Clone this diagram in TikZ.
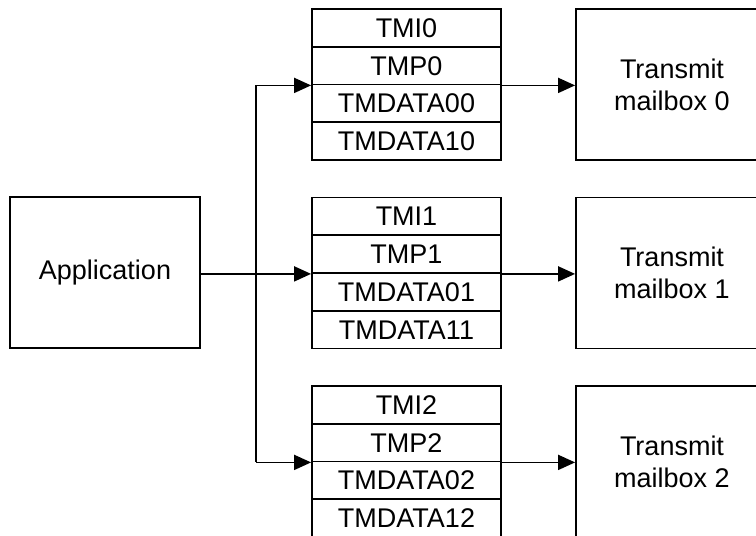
\documentclass[tikz,border=0pt]{standalone}
\usepackage{fontspec}
\setmainfont{Liberation Sans}
\usetikzlibrary{arrows.meta}
\begin{document}
\begin{tikzpicture}[x=1pt,y=-1pt,line width=1.8pt,
  txt/.style={font=\fontsize{27}{32}\selectfont},
  cell/.style={draw,txt,minimum width=189pt,minimum height=37.75pt,inner sep=0pt,text height=19pt,text depth=0pt},
  bigbox/.style={draw,txt,align=center,inner sep=0pt},
  arr/.style={-{Triangle[length=17pt,width=15pt]}}]
\useasboundingbox (0,0) rectangle (756,536);
\clip (0,0) rectangle (756,536);
\node[bigbox,minimum width=190pt,minimum height=151pt] (app) at (105,272.5) {Application};
\foreach \k in {0,1,2}{
  \pgfmathsetmacro{\ytop}{9+188.5*\k}
  \node[cell] (s\k a) at (406.5,\ytop+18.875) {TMI\k};
  \node[cell] (s\k b) at (406.5,\ytop+56.625) {TMP\k};
  \node[cell] (s\k c) at (406.5,\ytop+94.375) {TMDATA0\k};
  \node[cell] (s\k d) at (406.5,\ytop+132.125) {TMDATA1\k};
  \node[bigbox,minimum width=192pt,minimum height=151pt] (mb\k) at (672,\ytop+75.5) {Transmit\\mailbox \k};
  \draw[arr] (s\k b.south east) -- (s\k b.south east -| mb\k.west);
}
\coordinate (bus) at (256,273);
\draw (bus |- s0b.south west) -- (bus |- s2b.south west);
\draw[arr] (app.east |- s1b.south west) -- (s1b.south west);
\draw[arr] (bus |- s0b.south west) -- (s0b.south west);
\draw[arr] (bus |- s2b.south west) -- (s2b.south west);
\end{tikzpicture}
\end{document}
